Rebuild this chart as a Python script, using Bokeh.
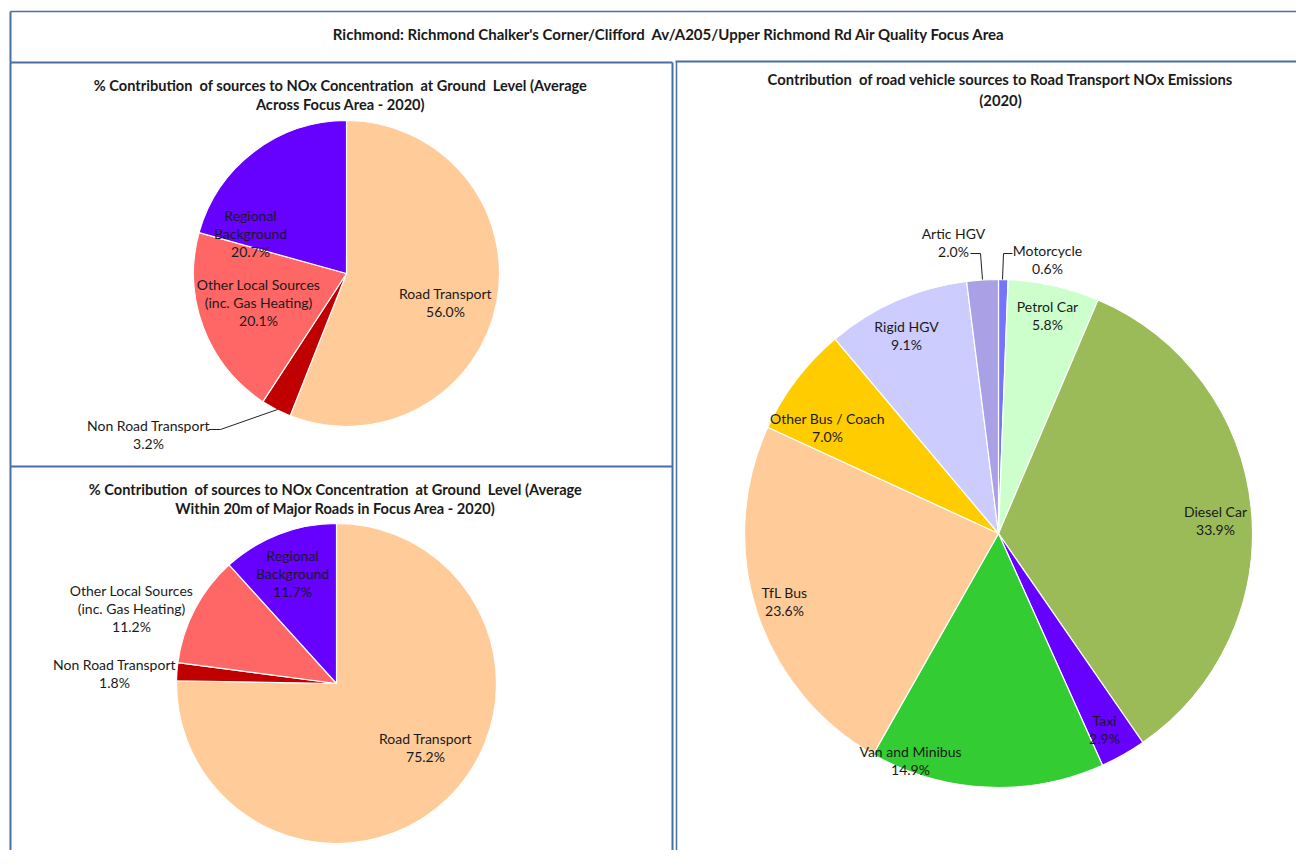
import numpy as np
from bokeh.plotting import figure
from bokeh.models import Range1d, ColumnDataSource
from bokeh.core.properties import value
from bokeh.embed import file_html
from bokeh.resources import INLINE

# ---------------- data ----------------
main_title = "Richmond: Richmond Chalker's Corner/Clifford  Av/A205/Upper Richmond Rd Air Quality Focus Area"

c1_title = ["% Contribution  of sources to NOx Concentration  at Ground  Level (Average",
            "Across Focus Area - 2020)"]
c1_cats = ["Road Transport", "Non Road Transport", "Other Local Sources\n(inc. Gas Heating)", "Regional\nBackground"]
c1_vals = [56.0, 3.2, 20.1, 20.7]

c2_title = ["% Contribution  of sources to NOx Concentration  at Ground  Level (Average",
            "Within 20m of Major Roads in Focus Area - 2020)"]
c2_cats = ["Road Transport", "Non Road Transport", "Other Local Sources\n(inc. Gas Heating)", "Regional\nBackground"]
c2_vals = [75.2, 1.8, 11.2, 11.7]

c3_title = ["Contribution  of road vehicle sources to Road Transport NOx Emissions", "(2020)"]
c3_cats = ["Motorcycle", "Petrol Car", "Diesel Car", "Taxi", "Van and Minibus", "TfL Bus",
           "Other Bus / Coach", "Rigid HGV", "Artic HGV"]
c3_vals = [0.6, 5.8, 33.9, 2.9, 14.9, 23.6, 7.0, 9.1, 2.0]

# ---------------- styles / layout ----------------
c12_colors = ["#FFCC99", "#C00000", "#FF6666", "#6600FF"]
c3_colors = ["#7474FF", "#CCFFCC", "#9BBB59", "#6600FF", "#33CC33", "#FFCC99",
             "#FFCC00", "#CCCCFF", "#A9A0E6"]

H = 866  # reference height; data y = H - screen y

FONT = "Lato"
W, Hf = 1296, 850
p = figure(width=W, height=Hf, x_range=Range1d(0, W), y_range=Range1d(H - Hf, H),
           output_backend="svg", toolbar_location=None, min_border=0)
p.axis.visible = False
p.grid.visible = False
p.outline_line_color = None
p.background_fill_color = "white"
p.border_fill_color = "white"


def Y(y):
    return H - y


def keep_spaces(s):
    return s.replace("  ", "\u00a0 ")


def pie(cx, cy, r, vals, colors):
    v = np.array(vals, dtype=float)
    frac = v / v.sum()
    cum = np.concatenate([[0], np.cumsum(frac)])
    start = np.pi / 2 - cum[:-1] * 2 * np.pi
    end = np.pi / 2 - cum[1:] * 2 * np.pi
    src = ColumnDataSource(dict(start=start, end=end, color=colors))
    p.wedge(x=cx, y=Y(cy), radius=r, start_angle="start", end_angle="end", direction="clock",
            fill_color="color", line_color="white", line_width=1.2, source=src)


def label(x, y, txt, size="14px", bold=False, color="#1a1a1a", lh=1.05):
    p.text(x=[x], y=[Y(y)], text=[keep_spaces(txt)], text_align="center", text_baseline="middle",
           text_font=value(FONT), text_font_size=size, text_color=color,
           text_font_style="bold" if bold else "normal", text_line_height=lh)


def fmt(cat, v):
    return f"{cat}\n{v:.1f}%"


# ---------------- borders ----------------
bc = "#4A6FA5"
p.line(x=[10, 1312], y=[Y(11), Y(11)], line_color=bc, line_width=1.5)
p.line(x=[10, 10], y=[Y(11), Y(866)], line_color=bc, line_width=2)
p.line(x=[10, 672], y=[Y(62), Y(62)], line_color=bc, line_width=2)
p.line(x=[675, 1312], y=[Y(61), Y(61)], line_color=bc, line_width=2)
p.line(x=[10, 672], y=[Y(466), Y(466)], line_color=bc, line_width=2)
p.line(x=[672, 672], y=[Y(62), Y(866)], line_color=bc, line_width=2)
p.line(x=[676, 676], y=[Y(61), Y(866)], line_color=bc, line_width=1.5)

# ---------------- titles ----------------
label(669, 33, main_title, size="15px", bold=True)
label(340, 94.5, "\n".join(c1_title), size="14.6px", bold=True, lh=1.13)
label(335, 498.5, "\n".join(c2_title), size="14.6px", bold=True, lh=1.13)
label(1000, 89, "\n".join(c3_title), size="14.8px", bold=True, lh=1.13)

# ---------------- pies ----------------
pie(346, 273, 153, c1_vals, c12_colors)
pie(336, 683, 160, c2_vals, c12_colors)
pie(998, 533, 254, c3_vals, c3_colors)

# ---------------- data labels ----------------
c1_pos = [(445, 302), (148, 434), (258, 302), (250, 233)]
for (x, y), c, v in zip(c1_pos, c1_cats, c1_vals):
    label(x, y, fmt(c, v))
p.line(x=[208, 220, 277], y=[Y(429), Y(429), Y(409)], line_color="#222222", line_width=1)

c2_pos = [(425, 747), (114, 673), (131, 608), (292, 573)]
for (x, y), c, v in zip(c2_pos, c2_cats, c2_vals):
    label(x, y, fmt(c, v))

c3_pos = [(1047, 259), (1047, 315), (1215, 520), (1104, 729), (910, 760), (784, 601),
          (827, 427), (906, 335), (953, 242)]
for (x, y), c, v in zip(c3_pos, c3_cats, c3_vals):
    label(x, y, fmt(c, v))
p.line(x=[970, 980, 982], y=[Y(253), Y(253), Y(279)], line_color="#222222", line_width=1)
p.line(x=[1012, 1003, 1002], y=[Y(253), Y(253), Y(279)], line_color="#222222", line_width=1)

open("out.html", "w").write(file_html(p, INLINE))
